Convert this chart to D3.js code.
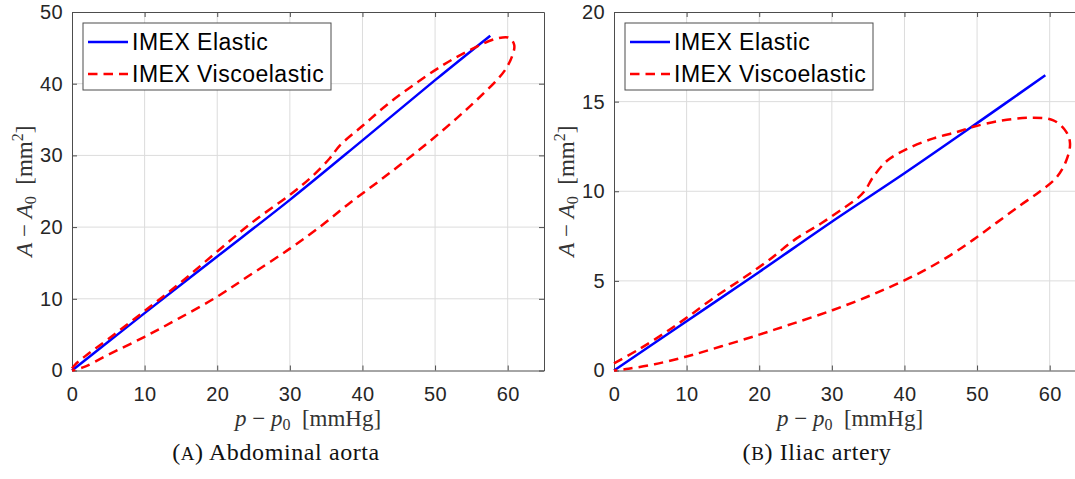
<!DOCTYPE html>
<html>
<head>
<meta charset="utf-8">
<script src="https://cdn.jsdelivr.net/npm/d3@7"></script>
<style>
  html, body { margin: 0; padding: 0; background: #fff; }
  svg { display: block; }
  .tick-label { font-family: "Liberation Sans", Arial, sans-serif; font-size: 20px; fill: #262626; letter-spacing: 0.4px; }
  .legend-text { font-family: "Liberation Sans", Arial, sans-serif; font-size: 23px; fill: #000; letter-spacing: 0.5px; }
  .math { font-family: "Liberation Serif", "Times New Roman", serif; font-size: 23px; fill: #333; }
  .caption { font-family: "Liberation Serif", "Times New Roman", serif; font-size: 24px; fill: #111; letter-spacing: 0.6px; }
</style>
</head>
<body>
<svg id="chart" width="1075" height="479"></svg>
<script>
// Pressure–area loops for two arteries: elastic (solid) vs viscoelastic (dashed) wall models.

const pressureTicks = [0, 10, 20, 30, 40, 50, 60];
const aortaAreaTicks = [0, 10, 20, 30, 40, 50];
const iliacAreaTicks = [0, 5, 10, 15, 20];
const seriesNames = ["IMEX Elastic", "IMEX Viscoelastic"];

// Abdominal aorta — elastic model
const aortaElasticP = [0, 5, 10, 20, 30, 40, 50, 57.6];
const aortaElasticA = [0, 4.0, 8.0, 15.9, 23.8, 32.1, 40.5, 46.7];

// Abdominal aorta — viscoelastic model (loading then unloading)
const aortaViscoP = [0, 0.4, 2.2, 5, 10, 15, 20, 25, 30, 33, 35.5, 36.9, 40.1, 43.3, 47, 51.1, 54.8, 58.5, 60.2, 60.9,
  60.6, 59.7, 58.5, 55.7, 53, 49.3, 45.6, 42, 38.3, 34.6, 30, 24.2, 20, 14.6, 10, 5, 1.7, 0];
const aortaViscoA = [0.3, 0.8, 2.3, 4.4, 8.3, 12.3, 16.6, 20.8, 24.5, 27.0, 29.6, 31.4, 34.2, 37.0, 39.8, 42.6, 44.7, 46.3, 46.4, 45.4,
  43.8, 42.0, 40.5, 37.7, 35.2, 32.0, 29.0, 26.2, 23.4, 20.4, 17.0, 13.1, 10.3, 7.2, 4.7, 2.2, 0.5, 0];

// Iliac artery — elastic model
const iliacElasticP = [0, 10, 20, 30, 40, 50, 59.4];
const iliacElasticA = [0, 2.75, 5.5, 8.3, 11.0, 13.8, 16.47];

// Iliac artery — viscoelastic model (loading then unloading)
const iliacViscoP = [0, 3.3, 7, 10.2, 13.9, 17.6, 21.3, 24.9, 28.5, 31.6, 33.5, 34.5, 35.7, 37.6, 40.3, 44, 47.2, 49.5, 53.2, 57.3,
  60.5, 62.3, 62.8, 62.3, 61, 58.7, 55.9, 52.7, 49.5, 45.8, 42.1, 38.5, 34.8, 30, 24.5, 20, 14.8, 10, 5.6, 2, 0];
const iliacViscoA = [0.4, 1.15, 2.1, 3.0, 4.1, 5.1, 6.15, 7.3, 8.2, 9.05, 9.6, 10.0, 10.8, 11.7, 12.35, 12.95, 13.3, 13.6, 13.93, 14.1,
  13.96, 13.3, 12.66, 11.73, 10.8, 10.0, 9.2, 8.25, 7.3, 6.3, 5.45, 4.75, 4.1, 3.35, 2.6, 2.0, 1.35, 0.78, 0.35, 0.1, 0];

const svg = d3.select("#chart");

const zip = (xs, ys) => xs.map((x, i) => [x, ys[i]]);

function drawPanel(cfg) {
  const x = d3.scaleLinear().domain([0, 65]).range([cfg.left, cfg.left + 472]);
  const y = d3.scaleLinear().domain(cfg.yDomain).range([370.5, 12]);
  const g = svg.append("g");
  const [x0, x1] = x.range();
  const [yb, yt] = y.range();
  const tickLen = 5;

  // grid
  g.append("g").selectAll("line").data(cfg.xTicks.filter(t => t > 0)).join("line")
    .attr("x1", d => x(d)).attr("x2", d => x(d)).attr("y1", yb).attr("y2", yt)
    .attr("stroke", "#dcdcdc").attr("stroke-width", 1);
  g.append("g").selectAll("line").data(cfg.yTicks.filter(t => t > cfg.yDomain[0] && t < cfg.yDomain[1])).join("line")
    .attr("x1", x0).attr("x2", x1).attr("y1", d => y(d)).attr("y2", d => y(d))
    .attr("stroke", "#dcdcdc").attr("stroke-width", 1);

  // axes with inward ticks on all four sides
  const bottom = d3.axisBottom(x).tickValues(cfg.xTicks).tickSizeInner(-tickLen).tickSizeOuter(0).tickPadding(16);
  const top = d3.axisTop(x).tickValues(cfg.xTicks).tickSizeInner(-tickLen).tickSizeOuter(0).tickFormat("");
  const leftAx = d3.axisLeft(y).tickValues(cfg.yTicks).tickSizeInner(-tickLen).tickSizeOuter(0).tickPadding(9);
  const rightAx = d3.axisRight(y).tickValues(cfg.yTicks).tickSizeInner(-tickLen).tickSizeOuter(0).tickFormat("");

  const styleAxis = sel => {
    sel.attr("font-family", null).attr("font-size", null);
    sel.select(".domain").attr("stroke", "#4d4d4d").attr("stroke-width", 1);
    sel.selectAll(".tick line").attr("stroke", "#4d4d4d").attr("stroke-width", 1);
    sel.selectAll(".tick text").attr("class", "tick-label").attr("fill", null);
  };
  g.append("g").attr("transform", `translate(0,${yb})`).call(bottom).call(styleAxis);
  g.append("g").attr("transform", `translate(0,${yt})`).call(top).call(styleAxis);
  g.append("g").attr("transform", `translate(${x0},0)`).call(leftAx).call(styleAxis);
  g.append("g").attr("transform", `translate(${x1},0)`).call(rightAx).call(styleAxis);

  // data
  const line = d3.line().x(d => x(d[0])).y(d => y(d[1])).curve(d3.curveCatmullRom.alpha(0.5));
  g.append("path").datum(zip(cfg.elasticP, cfg.elasticA)).attr("d", line)
    .attr("fill", "none").attr("stroke", "#0000ff").attr("stroke-width", 2.5);
  g.append("path").datum(zip(cfg.viscoP, cfg.viscoA)).attr("d", line)
    .attr("fill", "none").attr("stroke", "#ff0000").attr("stroke-width", 2.5)
    .attr("stroke-dasharray", "9.5,6");

  // legend
  const lg = g.append("g").attr("transform", `translate(${x0 + 11},${yt + 11})`);
  lg.append("rect").attr("width", 248).attr("height", 67)
    .attr("fill", "#fff").attr("stroke", "#4d4d4d").attr("stroke-width", 1);
  const styles = [{ c: "#0000ff", dash: null }, { c: "#ff0000", dash: "9.5,6" }];
  seriesNames.forEach((name, i) => {
    const ry = 19 + i * 32;
    lg.append("line").attr("x1", 5).attr("x2", 45).attr("y1", ry).attr("y2", ry)
      .attr("stroke", styles[i].c).attr("stroke-width", 2.5).attr("stroke-dasharray", styles[i].dash);
    lg.append("text").attr("class", "legend-text").attr("x", 49).attr("y", ry).attr("dy", "0.36em").text(name);
  });

  // x label: p − p0 [mmHg]
  const xl = g.append("text").attr("class", "math").attr("x", (x0 + x1) / 2).attr("y", 426).attr("text-anchor", "middle");
  xl.append("tspan").attr("font-style", "italic").text("p");
  xl.append("tspan").text(" \u2212 ");
  xl.append("tspan").attr("font-style", "italic").text("p");
  xl.append("tspan").attr("font-size", "16px").attr("dy", 4).text("0");
  xl.append("tspan").attr("dy", -4).text("\u2002[mmHg]");

  // y label: A − A0 [mm²]
  const yl = g.append("text").attr("class", "math").attr("text-anchor", "middle")
    .attr("transform", `translate(${x0 - 40},${(yb + yt) / 2}) rotate(-90)`);
  yl.append("tspan").attr("font-style", "italic").text("A");
  yl.append("tspan").text(" \u2212 ");
  yl.append("tspan").attr("font-style", "italic").text("A");
  yl.append("tspan").attr("font-size", "16px").attr("dy", 4).text("0");
  yl.append("tspan").attr("dy", -4).text("\u2002[mm");
  yl.append("tspan").attr("font-size", "16px").attr("dy", -9).text("2");
  yl.append("tspan").attr("dy", 9).text("]");

  // caption
  const cap = svg.append("text").attr("class", "caption").attr("x", cfg.captionX).attr("y", 460).attr("text-anchor", "middle");
  cap.append("tspan").text("(");
  cap.append("tspan").attr("font-size", "19px").text(cfg.captionLetter);
  cap.append("tspan").text(") " + cfg.caption);
}

drawPanel({
  left: 72, yDomain: [0, 50], xTicks: pressureTicks, yTicks: aortaAreaTicks,
  elasticP: aortaElasticP, elasticA: aortaElasticA, viscoP: aortaViscoP, viscoA: aortaViscoA,
  captionX: 276, captionLetter: "A", caption: "Abdominal aorta"
});
drawPanel({
  left: 614, yDomain: [0, 20], xTicks: pressureTicks, yTicks: iliacAreaTicks,
  elasticP: iliacElasticP, elasticA: iliacElasticA, viscoP: iliacViscoP, viscoA: iliacViscoA,
  captionX: 817, captionLetter: "B", caption: "Iliac artery"
});
</script>
</body>
</html>
